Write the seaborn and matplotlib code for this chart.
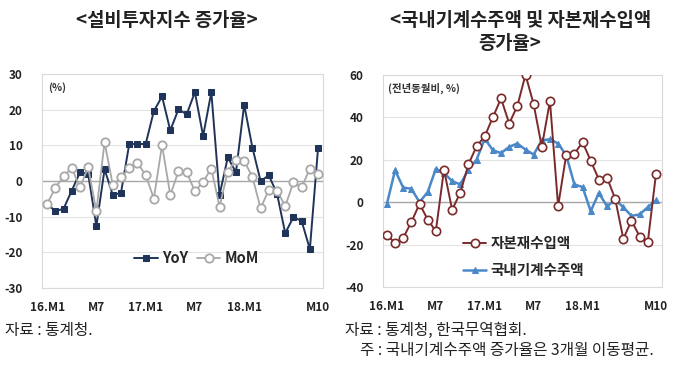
import numpy as np
import pandas as pd
import seaborn as sns
import matplotlib.pyplot as plt

sns.set_theme(style="white")
plt.rcParams['font.family'] = ['Noto Sans CJK KR', 'DejaVu Sans']

# 2016.01 ~ 2018.10, 34 months
months = list(range(34))
tick_pos = [0, 6, 12, 18, 24, 33]
tick_labels = ['16.M1', 'M7', '17.M1', 'M7', '18.M1', 'M10']

# 설비투자지수 증가율
yoy = [-6.4, -8.4, -7.8, -2.7, 2.4, 2.1, -12.6, 3.3, -3.9, -3.3,
       10.3, 10.5, 10.3, 19.6, 23.7, 14.2, 20.1, 18.7, 24.9, 12.6,
       24.9, -3.9, 6.6, 2.5, 21.4, 9.4, 0.0, 1.6, -3.5, -14.6,
       -10.1, -11.2, -19.1, 9.3]
mom = [-6.4, -1.9, 1.3, 3.7, -1.8, 3.8, -8.4, 10.9, -1.1, 1.0,
       3.7, 5.1, 1.7, -4.9, 10.1, -3.9, 2.7, 2.5, -2.9, -0.2,
       3.5, -7.2, 2.6, 6.0, 5.6, 1.2, -7.6, -2.5, -2.7, -7.0,
       -0.4, -1.8, 3.5, 2.0]

# 자본재수입액 / 국내기계수주액 증가율
capital_imports = [-15.3, -19.4, -16.8, -9.4, -0.8, -8.2, -13.7, 15.3, -3.6, 4.4,
                   17.8, 26.3, 31.0, 40.0, 48.8, 37.0, 45.3, 60.0, 46.1, 26.0,
                   47.6, -1.9, 22.4, 22.8, 28.2, 19.5, 10.6, 11.5, 1.6, -17.3,
                   -8.7, -16.2, -18.9, 13.1]
machine_orders = [-0.8, 15.0, 6.8, 6.3, 0.0, 4.7, 15.7, 13.7, 9.9, 8.3,
                  15.3, 20.0, 29.9, 24.4, 23.1, 26.0, 27.6, 24.7, 22.4, 29.1,
                  29.6, 27.6, 22.0, 8.3, 7.1, -4.3, 4.3, -2.0, 1.1, -2.4,
                  -6.5, -5.8, -2.4, 0.8]

navy = '#1f3458'
gray = '#a8a8a8'
maroon = '#7a2a2a'
blue = '#4a88c8'

fig = plt.figure(figsize=(6.8, 3.68), dpi=100)
ax1 = fig.add_axes([0.062, 0.217, 0.413, 0.582])
ax2 = fig.add_axes([0.563, 0.22, 0.41, 0.577])


def style_axis(ax, ylim, yticks, xlim):
    ax.set_xlim(*xlim)
    ax.set_ylim(*ylim)
    ax.set_yticks(yticks)
    ax.set_yticklabels([str(v) for v in yticks], fontsize=8.5, fontweight='bold', color='#222222')
    ax.set_xticks(tick_pos)
    ax.set_xticklabels(tick_labels, fontsize=8.5, fontweight='bold', color='#222222')
    ax.tick_params(axis='x', length=0, pad=9)
    ax.tick_params(axis='y', length=0, pad=14)
    for v in yticks:
        ax.axhline(v, color='#e4e4e4', lw=0.8, zorder=0)
    ax.axhline(0, color='#a8a8a8', lw=1.0, zorder=1)
    for s in ax.spines.values():
        s.set_color('#d9d9d9')
        s.set_linewidth(0.8)
    ax.set_xlabel('')
    ax.set_ylabel('')


sns.lineplot(x=months, y=yoy, ax=ax1, color=navy, lw=1.4, marker='s', markersize=4.5,
             markeredgecolor=navy, markerfacecolor=navy, label='YoY', zorder=3)
sns.lineplot(x=months, y=mom, ax=ax1, color=gray, lw=1.3, marker='o', markersize=6,
             markeredgecolor=gray, markerfacecolor='white', markeredgewidth=1.3,
             label='MoM', zorder=4)
style_axis(ax1, (-30, 30), [-30, -20, -10, 0, 10, 20, 30], (-0.6, 33.6))
ax1.text(0.02, 0.96, '(%)', transform=ax1.transAxes, fontsize=7.5, fontweight='bold',
         color='#333333', va='top')
ax1.legend(loc='lower center', bbox_to_anchor=(0.55, 0.04), ncol=2, frameon=False,
           handlelength=1.6, columnspacing=0.6, handletextpad=0.3,
           prop={'weight': 'bold', 'size': 10.5})

sns.lineplot(x=months, y=capital_imports, ax=ax2, color=maroon, lw=1.4, marker='o',
             markersize=6, markeredgecolor=maroon, markerfacecolor='white',
             markeredgewidth=1.2, label='자본재수입액', zorder=4)
sns.lineplot(x=months, y=machine_orders, ax=ax2, color=blue, lw=1.8, marker='^',
             markersize=5, markeredgecolor=blue, markerfacecolor=blue,
             label='국내기계수주액', zorder=3)
style_axis(ax2, (-40, 60), [-40, -20, 0, 20, 40, 60], (-0.5, 33.7))
ax2.text(0.02, 0.96, '(전년동월비, %)', transform=ax2.transAxes, fontsize=7.5,
         fontweight='bold', color='#333333', va='top')
ax2.legend(loc='lower left', bbox_to_anchor=(0.24, -0.02), ncol=1, frameon=False,
           handlelength=1.6, handletextpad=0.3, labelspacing=0.75,
           prop={'weight': 'bold', 'size': 10.5})

title_kw = dict(ha='center', va='center', fontsize=13.5, fontweight='bold', color='#222222')
fig.text(0.245, 0.945, '<설비투자지수 증가율>', **title_kw)
fig.text(0.766, 0.945, '<국내기계수주액 및 자본재수입액', **title_kw)
fig.text(0.75, 0.882, '증가율>', **title_kw)

foot_kw = dict(ha='left', va='center', fontsize=11.3, color='#222222')
fig.text(0.008, 0.103, '자료 : 통계청.', **foot_kw)
fig.text(0.507, 0.103, '자료 : 통계청, 한국무역협회.', **foot_kw)
fig.text(0.529, 0.048, '주 : 국내기계수주액 증가율은 3개월 이동평균.', **foot_kw)

fig.savefig('out.png', dpi=100, facecolor='white')
